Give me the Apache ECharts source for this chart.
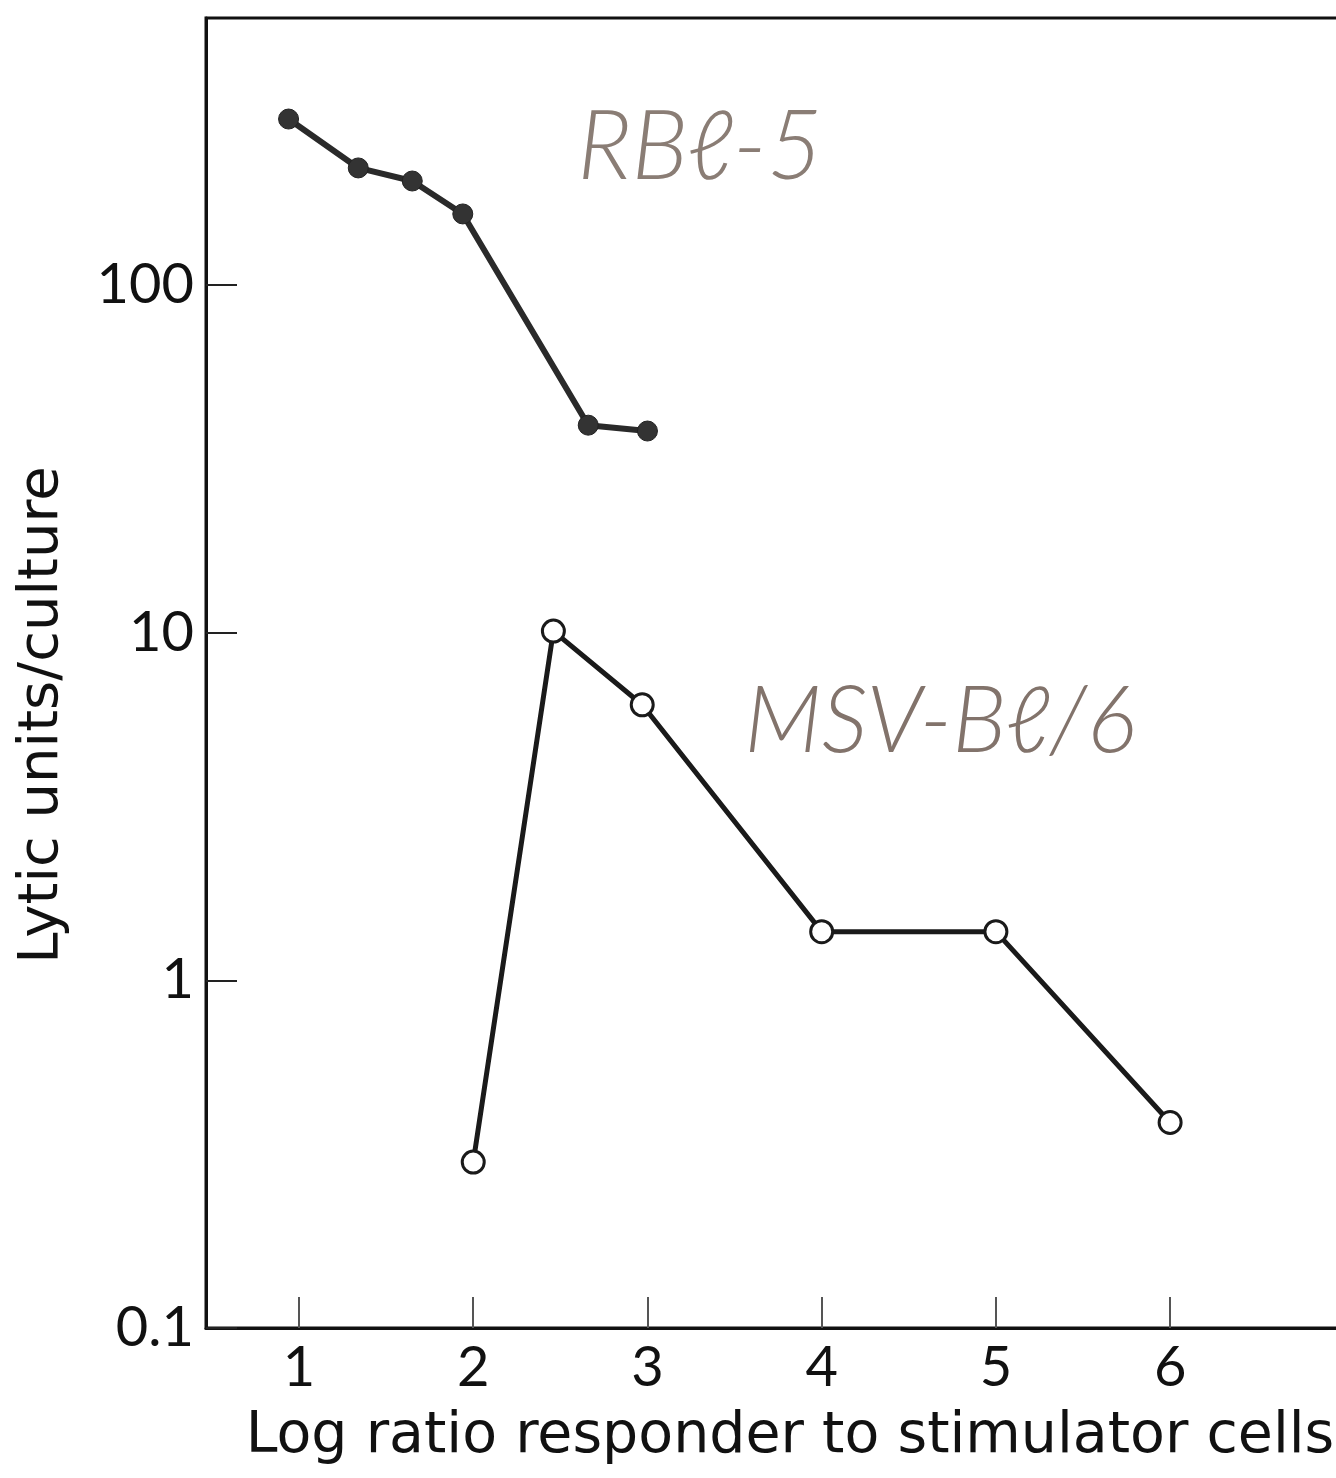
<!DOCTYPE html>
<html>
<head>
<meta charset="utf-8">
<script src="https://cdn.jsdelivr.net/npm/echarts@6/dist/echarts.min.js"></script>
<style>
  html, body { margin: 0; padding: 0; background: #fff; }
  #chart { width: 1336px; height: 1478px; }
</style>
</head>
<body>
<div id="chart"></div>
<script>
// log ratio responder : stimulator, lytic units per culture
var rblX = [0.94, 1.34, 1.65, 1.94, 2.66, 3.0]
var rblY = [300, 217, 199, 160, 39.5, 38]
var msvX = [2.0, 2.46, 2.97, 4.0, 5.0, 6.0]
var msvY = [0.30, 10.1, 6.2, 1.38, 1.38, 0.39]
var xTicks = [1, 2, 3, 4, 5, 6]

var font = 'Lato, "DejaVu Sans", sans-serif'
var titleFont = '"DejaVu Sans", sans-serif'

function pairs (xs, ys) {
    return xs.map(function (x, i) { return [x, ys[i]] })
}

var myChart = echarts.init(document.getElementById('chart'))

var option = {
    animation: false,
    backgroundColor: '#fff',
    grid: {
        left: 206,
        top: 18,
        right: -12,
        bottom: 150,
        outerBoundsMode: 'none',
        containLabel: false,
        show: true,
        borderColor: '#111',
        borderWidth: 3
    },
    xAxis: {
        type: 'value',
        min: 0.4661,
        max: 7.021,
        axisLine: { lineStyle: { color: '#111', width: 3 } },
        axisTick: {
            inside: true,
            length: 31,
            customValues: xTicks,
            lineStyle: { color: '#555', width: 2 }
        },
        axisLabel: {
            customValues: xTicks,
            margin: 12,
            color: '#111',
            fontSize: 56,
            fontFamily: font
        },
        splitLine: { show: false }
    },
    yAxis: {
        type: 'log',
        logBase: 10,
        min: 0.1,
        max: 585.7,
        axisLine: { lineStyle: { color: '#111', width: 3 } },
        axisTick: {
            inside: true,
            length: 31,
            lineStyle: { color: '#222', width: 2 }
        },
        axisLabel: {
            showMaxLabel: false,
            margin: 12,
            color: '#111',
            fontSize: 56,
            fontFamily: font
        },
        splitLine: { show: false }
    },
    series: [
        {
            name: 'RBL-5',
            type: 'line',
            data: pairs(rblX, rblY),
            symbol: 'circle',
            symbolSize: 20,
            lineStyle: { color: '#2a2a2a', width: 6 },
            itemStyle: { color: '#333', borderColor: '#222', borderWidth: 1 }
        },
        {
            name: 'MSV-BL/6',
            type: 'line',
            data: pairs(msvX, msvY),
            symbol: 'circle',
            symbolSize: 22,
            lineStyle: { color: '#1a1a1a', width: 5 },
            itemStyle: { color: '#fff', borderColor: '#1a1a1a', borderWidth: 3 }
        }
    ],
    graphic: [
        {
            type: 'text',
            x: 42,
            y: 715,
            rotation: Math.PI / 2,
            style: {
                text: 'Lytic units/culture',
                fill: '#111',
                font: '56px ' + titleFont,
                align: 'center',
                verticalAlign: 'middle'
            }
        },
        {
            type: 'text',
            x: 790,
            y: 1437,
            style: {
                text: 'Log ratio responder to stimulator cells',
                fill: '#111',
                font: '57px ' + titleFont,
                align: 'center',
                verticalAlign: 'middle'
            }
        },
        {
            type: 'text',
            x: 700,
            y: 148,
            style: {
                text: 'RBℓ-5',
                fill: '#8a7d75',
                font: 'italic 300 96px ' + font,
                align: 'center',
                verticalAlign: 'middle'
            }
        },
        {
            type: 'text',
            x: 940,
            y: 722,
            style: {
                text: 'MSV-Bℓ/6',
                fill: '#82736b',
                font: 'italic 300 92px ' + font,
                align: 'center',
                verticalAlign: 'middle'
            }
        }
    ]
}

myChart.setOption(option)
</script>
</body>
</html>
